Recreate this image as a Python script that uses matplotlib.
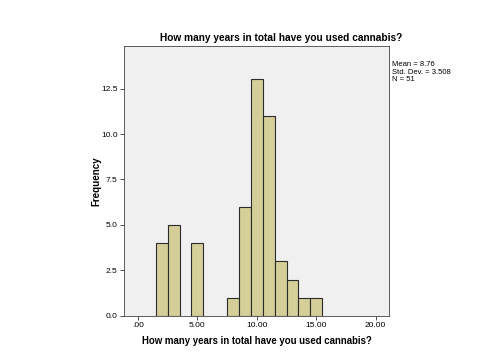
import matplotlib
matplotlib.use("Agg")
import matplotlib.pyplot as plt

# years of cannabis use (bin centres) and how many respondents fall in each
years = [2, 3, 5, 8, 9, 10, 11, 12, 13, 14, 15]
counts = [4, 5, 4, 1, 6, 13, 11, 3, 2, 1, 1]
xticks = [0, 5, 10, 15, 20]
xticklabels = [".00", "5.00", "10.00", "15.00", "20.00"]
yticks = [0, 2.5, 5.0, 7.5, 10.0, 12.5]
stats_text = "Mean = 8.76\nStd. Dev. = 3.508\nN = 51"

plt.rcParams["font.family"] = ["Liberation Sans", "DejaVu Sans"]

fig = plt.figure(figsize=(4.94, 3.61), dpi=100)
ax = fig.add_axes([0.251, 0.125, 0.536, 0.748])
ax.set_facecolor("#F0F0F0")

ax.bar(years, counts, width=1.0, color="#D4CF98", edgecolor="#2b2b2b", linewidth=0.8)

ax.set_xlim(-1.18, 21.1)
ax.set_ylim(0, 14.85)
ax.set_xticks(xticks)
ax.set_xticklabels(xticklabels)
ax.set_yticks(yticks)
ax.set_yticklabels(["0.0", "2.5", "5.0", "7.5", "10.0", "12.5"])
ax.tick_params(labelsize=6, length=3, width=0.6, color="#333333", pad=1.5)

for s in ax.spines.values():
    s.set_linewidth(0.6)
    s.set_color("#444444")

# SPSS puts the title a bit right of centre
fig.text(0.569, 0.895, "How many years in total have you used cannabis?",
         fontsize=7.3, fontweight="bold", ha="center", va="center")
ax.set_xlabel("How many years in total have you used cannabis?", fontsize=6.9,
              fontweight="bold", labelpad=5)
ax.set_ylabel("Frequency", fontsize=7, fontweight="bold", labelpad=0)

fig.text(0.793, 0.83, stats_text, fontsize=5.5, va="top", ha="left",
         linespacing=1.05)

fig.savefig("out.png", dpi=100)
